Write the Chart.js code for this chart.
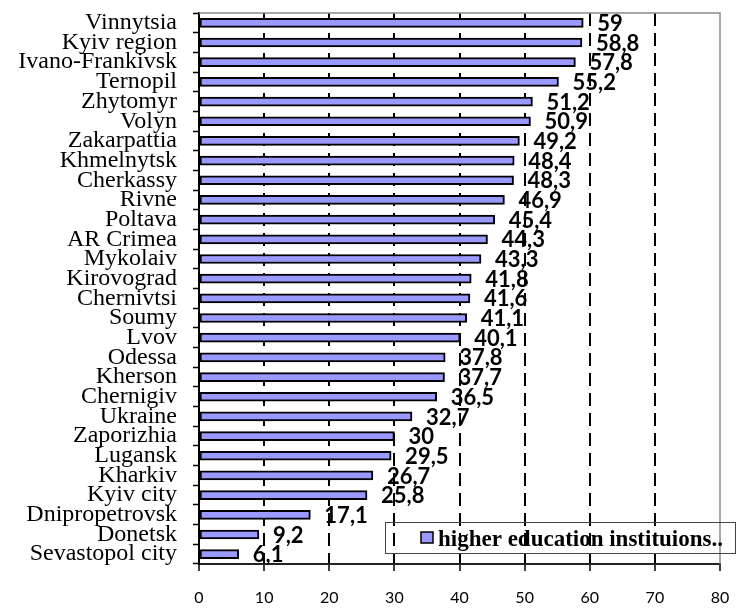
<!DOCTYPE html>
<html lang="en">
<head>
  <meta charset="UTF-8" />
  <title>Higher education institutions by region</title>
  <script src="https://cdn.jsdelivr.net/npm/chart.js@4.4.1/dist/chart.umd.min.js"></script>
  <style>
    html,body{margin:0;padding:0;background:#fff;}
    canvas{display:block;}
  </style>
</head>
<body>
  <canvas id="chart" width="736" height="608"></canvas>

  <script>
    const regions = ["Vinnytsia","Kyiv region","Ivano-Frankivsk","Ternopil","Zhytomyr","Volyn",
      "Zakarpattia","Khmelnytsk","Cherkassy","Rivne","Poltava","AR Crimea","Mykolaiv","Kirovograd",
      "Chernivtsi","Soumy","Lvov","Odessa","Kherson","Chernigiv","Ukraine","Zaporizhia","Lugansk",
      "Kharkiv","Kyiv city","Dnipropetrovsk","Donetsk","Sevastopol city"];
    const values = [59,58.8,57.8,55.2,51.2,50.9,49.2,48.4,48.3,46.9,45.4,44.3,43.3,41.8,
      41.6,41.1,40.1,37.8,37.7,36.5,32.7,30,29.5,26.7,25.8,17.1,9.2,6.1];
    const xTicks = [0,10,20,30,40,50,60,70,80];
    const seriesName = "higher education instituions..";

    const fmt = v => String(v).replace('.', ',');

    // value labels right of each bar
    const valueLabels = {
      id:'valueLabels',
      afterDatasetsDraw(chart){
        const {ctx} = chart;
        const meta = chart.getDatasetMeta(0);
        ctx.save();
        ctx.font = 'bold 22px Lato';
        ctx.fillStyle = '#000';
        ctx.textAlign = 'left';
        ctx.textBaseline = 'middle';
        meta.data.forEach((bar,i)=>{
          ctx.fillText(fmt(values[i]), bar.x + 14, bar.y + 1);
        });
        ctx.restore();
      }
    };

    // grey top / right frame of the plot area
    const frame = {
      id:'frame',
      beforeDatasetsDraw(chart){
        const {ctx, chartArea:a} = chart;
        ctx.save();
        ctx.strokeStyle = '#8c8c8c';
        ctx.lineWidth = 1.5;
        ctx.beginPath();
        ctx.moveTo(a.left, a.top); ctx.lineTo(a.right, a.top); ctx.lineTo(a.right, a.bottom);
        ctx.stroke();
        ctx.restore();
      }
    };

    // legend box sitting over the lower right corner
    const boxLegend = {
      id:'boxLegend',
      afterDraw(chart){
        const {ctx, chartArea:a} = chart;
        const x = a.left + 186, y = a.bottom - 42, w = 350, h = 31;
        ctx.save();
        ctx.strokeStyle = '#444';
        ctx.lineWidth = 1;
        ctx.strokeRect(x + .5, y + .5, w, h);
        ctx.fillStyle = '#9999ff';
        ctx.fillRect(x + 36, y + 10, 12, 11);
        ctx.strokeStyle = '#000';
        ctx.lineWidth = 1.5;
        ctx.strokeRect(x + 36, y + 10, 12, 11);
        ctx.fillStyle = '#000';
        ctx.font = 'bold 23px "Liberation Serif"';
        ctx.textBaseline = 'alphabetic';
        ctx.fillText(chart.data.datasets[0].label, x + 53, y + 24);
        ctx.restore();
      }
    };

    new Chart(document.getElementById('chart'), {
      type:'bar',
      data:{
        labels:regions,
        datasets:[{
          label:seriesName,
          data:values,
          backgroundColor:'#9999ff',
          borderColor:'#000',
          borderWidth:2,
          borderSkipped:false,
          barThickness:9
        }]
      },
      options:{
        indexAxis:'y',
        responsive:false,
        animation:false,
        devicePixelRatio:1,
        layout:{padding:{top:13,right:16,left:0,bottom:0}},
        plugins:{legend:{display:false},tooltip:{enabled:false}},
        scales:{
          x:{
            min:0,max:80,
            afterBuildTicks:s=>{ s.ticks = xTicks.map(v=>({value:v})); },
            afterFit:s=>{ s.height = 44; s.paddingLeft = 0; s.paddingRight = 0; },
            grid:{
              color:c=> (c.tick && (c.tick.value===0 || c.tick.value===80)) ? 'rgba(0,0,0,0)' : '#000',
              lineWidth:2,
              tickColor:'#000',
              tickLength:7,
              tickWidth:1.5,
              tickBorderDash:[]
            },
            border:{color:'#222',width:2,dash:[13,7]},
            ticks:{color:'#000',font:{family:'Lato',size:16},padding:17,maxRotation:0,autoSkip:false}
          },
          y:{
            afterFit:s=>{ s.width = 199; s.paddingTop = 0; s.paddingBottom = 0; },
            grid:{offset:true,drawOnChartArea:false,tickColor:'#000',tickLength:6,tickWidth:1.5},
            border:{color:'#000',width:2},
            ticks:{color:'#000',font:{family:'Liberation Serif',size:24},padding:16,autoSkip:false}
          }
        }
      },
      plugins:[frame,valueLabels,boxLegend]
    });
  </script>
</body>
</html>
